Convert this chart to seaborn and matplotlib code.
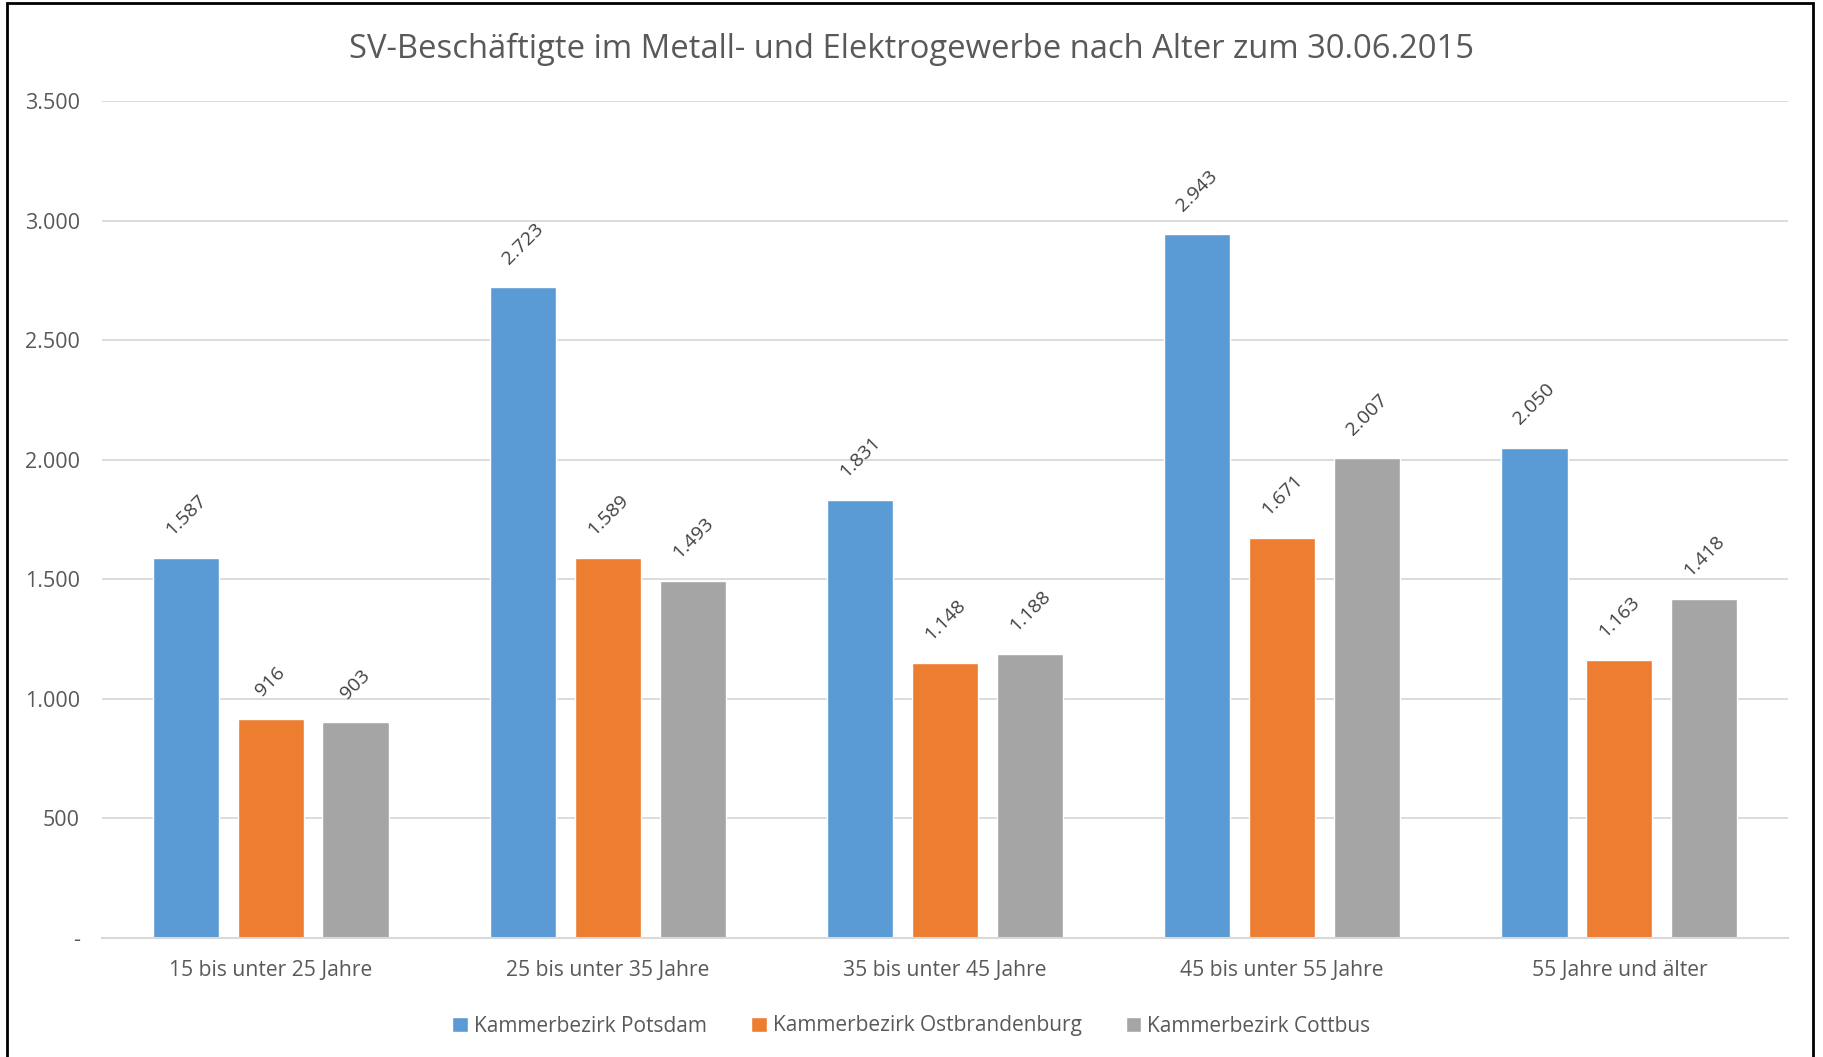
import matplotlib
matplotlib.use('Agg')
import matplotlib.pyplot as plt
import seaborn as sns
import pandas as pd
from matplotlib.patches import Rectangle
from matplotlib.ticker import FuncFormatter

# chart data
categories = ['15 bis unter 25 Jahre', '25 bis unter 35 Jahre', '35 bis unter 45 Jahre',
              '45 bis unter 55 Jahre', '55 Jahre und älter']
series_names = ['Kammerbezirk Potsdam', 'Kammerbezirk Ostbrandenburg', 'Kammerbezirk Cottbus']
potsdam = [1587, 2723, 1831, 2943, 2050]
ostbrandenburg = [916, 1589, 1148, 1671, 1163]
cottbus = [903, 1493, 1188, 2007, 1418]
colors = ['#5B9BD5', '#ED7D31', '#A5A5A5']
title = 'SV-Beschäftigte im Metall- und Elektrogewerbe nach Alter zum 30.06.2015'

rows = []
for name, vals in zip(series_names, [potsdam, ostbrandenburg, cottbus]):
    for cat, v in zip(categories, vals):
        rows.append({'Alter': cat, 'Bezirk': name, 'Anzahl': v})
df = pd.DataFrame(rows)

sns.set_style('white')
plt.rcParams['font.family'] = ['Open Sans', 'DejaVu Sans']
text_color = '#595959'

fig = plt.figure(figsize=(18.23, 10.57), dpi=100)
ax = fig.add_axes([102 / 1823, 1 - 938 / 1057, (1788 - 102) / 1823, (938 - 101) / 1057])

sns.barplot(data=df, x='Alter', y='Anzahl', hue='Bezirk', palette=colors,
            width=0.755, gap=0.22, ax=ax, saturation=1, errorbar=None,
            hue_order=series_names, order=categories)


def de_fmt(v):
    if v == 0:
        return '-'
    return f'{int(round(v)):,}'.replace(',', '.')


for cont in ax.containers:
    for bar in cont:
        h = bar.get_height()
        ax.annotate(de_fmt(h), (bar.get_x() + bar.get_width() / 2, h),
                    xytext=(0, 14), textcoords='offset points',
                    ha='center', va='bottom', rotation=45,
                    fontsize=14, color='#404040')

ax.set_ylim(0, 3500)
ax.set_yticks(range(0, 3501, 500))
ax.yaxis.set_major_formatter(FuncFormatter(lambda v, p: de_fmt(v)))
ax.set_xlim(-0.5, 4.5)
ax.grid(axis='y', color='#D9D9D9', linewidth=1.3)
ax.set_axisbelow(True)
for s in ['top', 'right', 'left']:
    ax.spines[s].set_visible(False)
ax.spines['bottom'].set_color('#D9D9D9')
ax.spines['bottom'].set_linewidth(1.5)
ax.tick_params(axis='x', length=0, labelsize=15.2, colors=text_color, pad=16)
ax.tick_params(axis='y', length=0, labelsize=15.5, colors=text_color, pad=16)
ax.set_xlabel('')
ax.set_ylabel('')

fig.text(0.5, 1 - 49 / 1057, title, ha='center', va='center', fontsize=23.6, color=text_color)

handles, labels = ax.get_legend_handles_labels()
ax.legend(handles, labels, loc='center', bbox_to_anchor=(0.5, 1 - 1026 / 1057),
          bbox_transform=fig.transFigure, ncol=3, frameon=False, fontsize=15,
          handlelength=0.75, handleheight=0.75, handletextpad=0.3, columnspacing=2.1,
          labelcolor=text_color)

# outer frame (bottom edge lies outside the picture)
fig.patches.append(Rectangle((7 / 1823, -0.05), (1813 - 7) / 1823, 1.05 - 3 / 1057,
                             transform=fig.transFigure, fill=False,
                             edgecolor='black', linewidth=2))

fig.savefig('out.png', dpi=100)
